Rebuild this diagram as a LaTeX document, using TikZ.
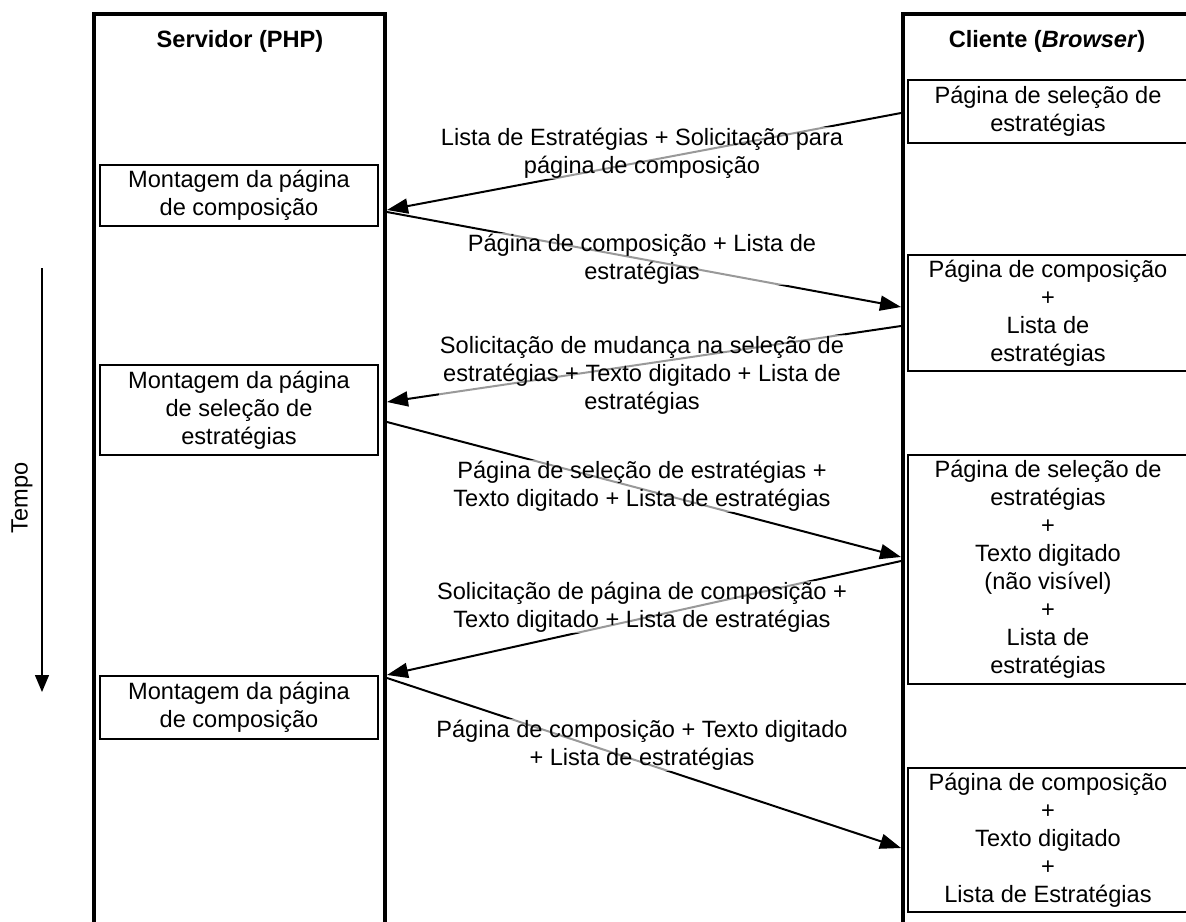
\documentclass[tikz,border=0pt]{standalone}
\usepackage{fontspec}
\setmainfont{Liberation Sans}
\usetikzlibrary{arrows.meta}

\begin{document}
\begin{tikzpicture}[x=1pt,y=-1pt,>={Triangle[length=21pt,width=15pt]},
	font=\fontsize{23.6}{28}\selectfont,
	lane/.style={line width=4pt},
	srv box/.style={draw,line width=2pt,minimum width=278pt,align=center,inner sep=0pt},
	cli box/.style={draw,line width=2pt,minimum width=280pt,align=center,inner sep=0pt},
	msg/.style={->,line width=2pt},
	msg label/.style={fill=white,fill opacity=0.6,text opacity=1,align=center,inner sep=1pt}]
	
	\useasboundingbox (0,0) rectangle (1186,921);
	\clip (0,0) rectangle (1186,921);
	
	% colunas
	\draw[lane] (94,930) -- (94,14) -- (385,14) -- (385,930);
	\draw[lane] (903,930) -- (903,14) -- (1200,14);
	\node[font=\fontsize{23.6}{28}\selectfont\bfseries] (srv) at (240,41) {Servidor (PHP)};
	\node[font=\fontsize{23.6}{28}\selectfont\bfseries] (cli) at (1047,41) {Cliente (\textit{Browser})};
	
	% tempo
	\coordinate (t0) at (42,268);
	\coordinate (t1) at (42,692);
	\draw[->,line width=1.3pt,>={Triangle[length=17pt,width=14pt]}] (t0) -- (t1);
	\node[rotate=90] (tempo) at (22,498) {Tempo};
	
	% servidor
	\node[srv box,minimum height=61pt] (s1) at (239,195.5) {Montagem da página\\de composição};
	\node[srv box,minimum height=90pt] (s2) at (239,410) {Montagem da página\\de seleção de\\estratégias};
	\node[srv box,minimum height=63pt] (s3) at (239,707.5) {Montagem da página\\de composição};
	
	% cliente
	\node[cli box,minimum height=63pt] (c1) at (1048,111.5) {Página de seleção de\\estratégias};
	\node[cli box,minimum height=116pt] (c2) at (1048,313) {Página de composição\\+\\Lista de\\estratégias};
	\node[cli box,minimum height=229pt] (c3) at (1048,569.5) {Página de seleção de\\estratégias\\+\\Texto digitado\\(não visível)\\+\\Lista de\\estratégias};
	\node[cli box,minimum height=144pt] (c4) at (1048,840) {Página de composição\\+\\Texto digitado\\+\\Lista de Estratégias};
	
	% pontos nas colunas
	\coordinate (c1o) at (901,113);
	\coordinate (s1i) at (387,210);
	\coordinate (s1o) at (387,212);
	\coordinate (c2i) at (901,307);
	\coordinate (c2o) at (901,326);
	\coordinate (s2i) at (387,402);
	\coordinate (s2o) at (387,422);
	\coordinate (c3i) at (901,557);
	\coordinate (c3o) at (901,561);
	\coordinate (s3i) at (387,675);
	\coordinate (s3o) at (387,678);
	\coordinate (c4i) at (901,848);
	
	\draw[msg] (c1o) -- (s1i);
	\draw[msg] (s1o) -- (c2i);
	\draw[msg] (c2o) -- (s2i);
	\draw[msg] (s2o) -- (c3i);
	\draw[msg] (c3o) -- (s3i);
	\draw[msg] (s3o) -- (c4i);
	
	% mensagens
	\node[msg label] (m1) at (642,153) {Lista de Estratégias + Solicitação para\\página de composição};
	\node[msg label] (m2) at (642,259) {Página de composição + Lista de\\estratégias};
	\node[msg label] (m3) at (642,375) {Solicitação de mudança na seleção de\\estratégias + Texto digitado + Lista de\\estratégias};
	\node[msg label] (m4) at (642,486) {Página de seleção de estratégias +\\Texto digitado + Lista de estratégias};
	\node[msg label] (m5) at (642,607) {Solicitação de página de composição +\\Texto digitado + Lista de estratégias};
	\node[msg label] (m6) at (642,745) {Página de composição + Texto digitado\\+ Lista de estratégias};
\end{tikzpicture}
\end{document}
